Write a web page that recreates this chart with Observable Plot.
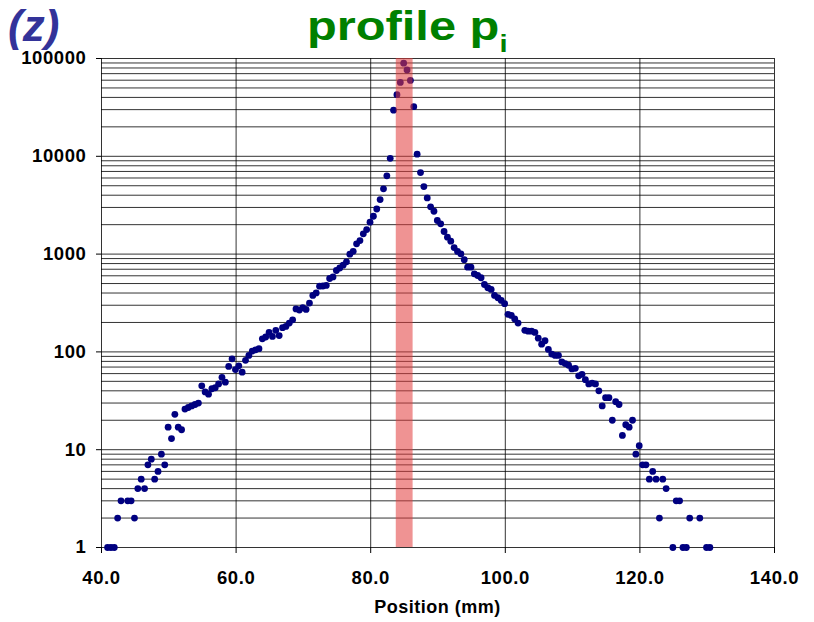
<!DOCTYPE html>
<html>
<head>
<meta charset="utf-8">
<script src="https://cdn.jsdelivr.net/npm/d3@7"></script>
<script src="https://cdn.jsdelivr.net/npm/@observablehq/plot@0.6"></script>
<style>
  html, body { margin: 0; padding: 0; background: #fff; }
  #chart { position: relative; width: 814px; height: 622px; overflow: hidden;
           font-family: "Liberation Sans", Arial, sans-serif; }
  #tag { position: absolute; left: 4px; top: 2px; font-size: 44px; font-weight: bold;
         font-style: italic; color: #333399; line-height: 1.1; padding: 0 4px; }
  #title { position: absolute; left: 0; width: 814px; top: 6px; text-align: center; line-height: 1; }
  #title span { display: inline-block; font-size: 40px; font-weight: bold; color: #008000;
                transform: scaleX(1.22); transform-origin: 50% 50%; }
  #title sub { font-size: 24px; vertical-align: -12px; }
  #xlabel { position: absolute; left: 101px; width: 673px; top: 598px; text-align: center;
            font-size: 18px; font-weight: bold; letter-spacing: 0.5px; line-height: 1; }
  #plot { position: absolute; left: 0; top: 0; }
</style>
</head>
<body>
<div id="chart">
  <div id="plot"></div>
  <div id="tag">(z)</div>
  <div id="title"><span>profile p<sub>i</sub></span></div>
  <div id="xlabel">Position (mm)</div>
</div>
<script>
// Beam profile: counts per 0.5 mm position bin
const positions = [
  40.9, 41.4, 41.9, 42.4, 42.9, 43.9, 44.4, 44.9, 45.4, 45.9, 46.4, 46.9, 47.4, 47.9, 48.4, 48.9,
  49.4, 49.9, 50.4, 50.9, 51.4, 51.9, 52.4, 52.9, 53.4, 53.9, 54.4, 54.9, 55.4, 55.9, 56.4, 56.9,
  57.4, 57.9, 58.4, 58.9, 59.4, 59.9, 60.4, 60.9, 61.4, 61.9, 62.4, 62.9, 63.4, 63.9, 64.4, 64.9,
  65.4, 65.9, 66.4, 66.9, 67.4, 67.9, 68.4, 68.9, 69.4, 69.9, 70.4, 70.9, 71.4, 71.9, 72.4, 72.9,
  73.4, 73.9, 74.4, 74.9, 75.4, 75.9, 76.4, 76.9, 77.4, 77.9, 78.4, 78.9, 79.4, 79.9, 80.4, 80.9,
  81.4, 81.9, 82.4, 82.9, 83.4, 83.9, 84.4, 84.9, 85.4, 85.9, 86.4, 86.9, 87.4, 87.9, 88.4, 88.9,
  89.4, 89.9, 90.4, 90.9, 91.4, 91.9, 92.4, 92.9, 93.4, 93.9, 94.4, 94.9, 95.4, 95.9, 96.4, 96.9,
  97.4, 97.9, 98.4, 98.9, 99.4, 99.9, 100.4, 100.9, 101.4, 101.9, 102.9, 103.4, 103.9, 104.4, 104.9,
  105.4, 105.9, 106.4, 106.9, 107.4, 107.9, 108.4, 108.9, 109.4, 109.9, 110.4, 110.9, 111.4, 111.9,
  112.4, 112.9, 113.4, 113.9, 114.4, 114.9, 115.4, 115.9, 116.4, 116.9, 117.4, 117.9, 118.4, 118.9,
  119.4, 119.9, 120.4, 120.9, 121.4, 121.9, 122.4, 122.9, 123.4, 123.9, 124.9, 125.4, 125.9, 126.4,
  126.9, 127.4, 128.9, 129.9, 130.4
];
const counts = [
  1, 1, 1, 2, 3, 3, 3, 2, 4, 5, 4, 7, 8, 5, 6, 9,
  7, 17, 13, 23, 17, 16, 26, 27, 28, 29, 30, 45, 39, 37, 42, 43,
  47, 55, 49, 71, 85, 66, 72, 62, 82, 92, 102, 105, 108, 136, 142, 158,
  144, 166, 147, 177, 182, 197, 213, 275, 268, 284, 272, 316, 378, 401, 470, 472,
  478, 563, 584, 680, 721, 770, 834, 998, 1068, 1274, 1376, 1611, 1783, 2118, 2438, 2890,
  3613, 4650, 6320, 9545, 29650, 42680, 57000, 89500, 76300, 59700, 32200, 10520, 6820, 4900, 3757, 3040,
  2742, 2205, 2040, 1702, 1489, 1355, 1167, 1064, 1007, 875, 735, 735, 629, 604, 573, 489,
  453, 435, 378, 358, 336, 311, 242, 236, 217, 197, 166, 163, 163, 158, 138,
  120, 130, 106, 95, 92, 92, 79, 76, 73, 67, 68, 57, 59, 52,
  47, 48, 47, 40, 28, 34, 34, 20, 31, 29, 14, 18, 17, 20,
  9, 11, 7, 7, 5, 6, 5, 2, 5, 4, 1, 3, 3, 1,
  1, 2, 2, 1, 1
];

// Shaded window around the peak (mm)
const bandStart = 83.8;
const bandEnd = 86.3;

// Axis ticks
const xTicks = [40, 60, 80, 100, 120, 140];
const yTicks = [1, 10, 100, 1000, 10000, 100000];
const mantissas = [1, 2, 3, 4, 5, 6, 7, 8, 9];

const points = positions.map((x, i) => ({x, n: counts[i]}));
const yGrid = yTicks.flatMap(d => mantissas.map(m => m * d)).filter(v => v <= 100000);

const chart = Plot.plot({
  width: 814,
  height: 622,
  marginLeft: 101,
  marginRight: 40,
  marginTop: 58,
  marginBottom: 75,
  style: {fontFamily: '"Liberation Sans", Arial, sans-serif', fontWeight: "bold", fontSize: "18.5px",
          letterSpacing: "0.6px", color: "#000", background: "#fff"},
  x: {domain: [40, 140], ticks: xTicks, tickFormat: d => d.toFixed(1), tickSize: 6, tickPadding: 17, label: null},
  y: {type: "log", domain: [1, 100000], ticks: yTicks, tickFormat: d => String(d), tickSize: 5, tickPadding: 10, label: null},
  marks: [
    Plot.ruleY(yGrid, {stroke: "#000", strokeOpacity: 0.8, strokeWidth: 1}),
    Plot.ruleX(xTicks, {stroke: "#000", strokeOpacity: 0.8, strokeWidth: 1}),
    Plot.dot(points, {x: "x", y: "n", r: 3.4, fill: "#000080", stroke: "none"}),
    Plot.rect([{x1: bandStart, x2: bandEnd}], {x1: "x1", x2: "x2", y1: 1, y2: 100000, fill: "#e23a3a", fillOpacity: 0.55})
  ]
});
document.getElementById("plot").appendChild(chart);
</script>
</body>
</html>
